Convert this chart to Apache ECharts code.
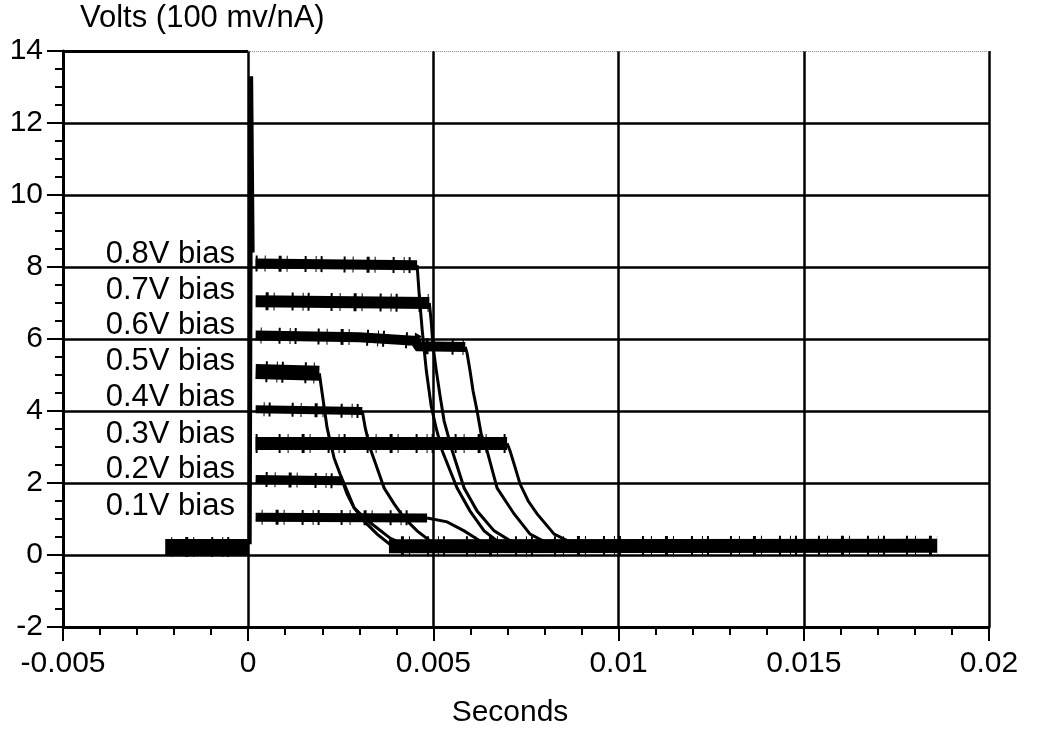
<!DOCTYPE html>
<html><head><meta charset="utf-8">
<script src="https://cdn.jsdelivr.net/npm/echarts@6/dist/echarts.min.js"></script>
<style>html,body{margin:0;padding:0;background:#fff}#c{width:1039px;height:730px}</style>
</head><body><div id="c"></div>
<script>
const FONT = '"Liberation Sans", Arial, Helvetica, sans-serif';

// axis ticks
const xTickLabels = ['-0.005', '0', '0.005', '0.01', '0.015', '0.02'];
const yTickLabels = ['-2', '0', '2', '4', '6', '8', '10', '12', '14'];

// bias labels
const biasNames = ['0.8V bias', '0.7V bias', '0.6V bias', '0.5V bias', '0.4V bias', '0.3V bias', '0.2V bias', '0.1V bias'];
const biasLabelV = [8.36, 7.36, 6.39, 5.39, 4.39, 3.36, 2.39, 1.36];
const biasLabelT = -0.00035;

// baseline noise band before trigger and after decay
const preT = [-0.00224, 0.0];
const preV = [0.22, 0.22];
const postT = [0.0038, 0.0186];
const postV = [0.24, 0.26];

// trigger spike
const spikeT = [0.00004, 0.00008, 0.00012];
const spikeV = [0.3, 13.3, 8.4];

// plateaus (seconds, volts)
const plat08T = [0.0002, 0.00456];
const plat08V = [8.1, 8.05];
const plat07T = [0.0002, 0.00489];
const plat07V = [7.05, 7.0];
const plat06T = [0.0002, 0.0030, 0.0045, 0.0046, 0.00586];
const plat06V = [6.1, 6.05, 5.95, 5.8, 5.78];
const plat05T = [0.0002, 0.00192];
const plat05V = [5.1, 5.05];
const plat04T = [0.0002, 0.00308];
const plat04V = [4.05, 4.0];
const plat03T = [0.0002, 0.00699];
const plat03V = [3.1, 3.1];
const plat02T = [0.0002, 0.00254];
const plat02V = [2.1, 2.06];
const plat01T = [0.0002, 0.00483];
const plat01V = [1.05, 1.03];

// decays (seconds, volts)
const fall08T = [0.00456, 0.00462, 0.0047, 0.00481, 0.00494, 0.00508, 0.00524, 0.00564, 0.00599, 0.00637, 0.00672, 0.00726];
const fall08V = [8.05, 7.19, 6.22, 5.11, 4.14, 3.5, 2.89, 1.86, 1.22, 0.67, 0.39, 0.25];
const fall07T = [0.00489, 0.00494, 0.00499, 0.00508, 0.00518, 0.00529, 0.00551, 0.00583, 0.00618, 0.00664, 0.00713, 0.00767];
const fall07V = [7.0, 6.5, 5.8, 5.11, 4.42, 3.72, 2.89, 1.86, 1.22, 0.67, 0.36, 0.22];
const fall06T = [0.00586, 0.00591, 0.00599, 0.00607, 0.00618, 0.00629, 0.00645, 0.00672, 0.00718, 0.00761, 0.00807, 0.00861];
const fall06V = [5.78, 5.6, 5.11, 4.56, 4.0, 3.36, 2.89, 1.86, 1.14, 0.58, 0.33, 0.22];
const fall05T = [0.00192, 0.002, 0.00213, 0.00232, 0.00248, 0.00267, 0.00286, 0.00313, 0.00348, 0.00381, 0.00429];
const fall05V = [5.05, 4.47, 3.53, 2.69, 2.25, 1.78, 1.31, 0.94, 0.58, 0.31, 0.19];
const fall04T = [0.00308, 0.00316, 0.00329, 0.00348, 0.00367, 0.00394, 0.00421, 0.00456, 0.00491, 0.00537];
const fall04V = [4.0, 3.53, 2.97, 2.42, 1.86, 1.42, 1.03, 0.67, 0.39, 0.22];
const fall03T = [0.00699, 0.00707, 0.00721, 0.00734, 0.00756, 0.0078, 0.00826, 0.00875, 0.00915];
const fall03V = [3.1, 2.89, 2.42, 1.97, 1.5, 1.14, 0.58, 0.33, 0.22];
const fall02T = [0.00254, 0.00267, 0.00286, 0.00313, 0.00348, 0.00383, 0.00429];
const fall02V = [2.06, 1.69, 1.31, 1.03, 0.75, 0.47, 0.25];
const fall01T = [0.00483, 0.00537, 0.00583, 0.00626, 0.00672];
const fall01V = [1.03, 0.92, 0.67, 0.39, 0.22];

const plateaus = [[plat08T, plat08V], [plat07T, plat07V], [plat06T, plat06V], [plat05T, plat05V],
                  [plat04T, plat04V], [plat03T, plat03V], [plat02T, plat02V], [plat01T, plat01V]];
const falls = [[fall08T, fall08V], [fall07T, fall07V], [fall06T, fall06V], [fall05T, fall05V],
               [fall04T, fall04V], [fall03T, fall03V], [fall02T, fall02V], [fall01T, fall01V]];
const plateauWidths = [10, 12, 10, 15, 8, 13, 9, 9];

const zip = (t, v) => t.map((x, i) => [x, v[i]]);
const X_MIN = -0.005, X_INT = 0.005, Y_MIN = -2, Y_INT = 2;

function lineSeries(name, data, width, extra) {
  return Object.assign({
    name, type: 'line', data, symbol: 'none', silent: true, animation: false,
    lineStyle: { color: '#000', width, cap: 'butt', join: 'miter' }
  }, extra || {});
}
// irregular noise fringe drawn over the same trace (style only)
const NOISE_DASH = [2, 7, 1, 13, 3, 5, 1, 17, 2, 9, 1, 4, 2, 21];
function fringe(name, data, width, offset) {
  return {
    name: name + ' noise', type: 'line', data, symbol: 'none', silent: true, animation: false,
    lineStyle: { color: '#000', width, cap: 'butt', type: NOISE_DASH, dashOffset: offset }
  };
}

const series = [];
series.push(lineSeries('pre', zip(preT, preV), 16, {
  markLine: {
    silent: true, symbol: 'none', animation: false, label: { show: false },
    data: [
      [{ coord: [X_MIN, 14], lineStyle: { type: 'solid', color: '#000', width: 3 } }, { coord: [0, 14] }],
      [{ coord: [0, 14], lineStyle: { type: 'dotted', color: '#888', width: 1 } }, { coord: [0.02, 14] }]
    ]
  }
}));
series.push(fringe('pre', zip(preT, preV), 20, 3));
series.push(lineSeries('post', zip(postT, postV), 14));
series.push(fringe('post', zip(postT, postV), 20, 11));
plateaus.forEach((p, i) => {
  series.push(lineSeries(biasNames[i] + ' plateau', zip(p[0], p[1]), plateauWidths[i]));
  series.push(fringe(biasNames[i], zip(p[0], p[1]), plateauWidths[i] + 6, i * 13));
});
falls.forEach((f, i) => series.push(lineSeries(biasNames[i] + ' decay', zip(f[0], f[1]), 3)));
series.push(lineSeries('spike', zip(spikeT, spikeV), 4));
series.push({
  name: 'labels', type: 'scatter', silent: true, animation: false, symbol: 'circle', symbolSize: 0.5,
  itemStyle: { color: '#000' },
  data: biasLabelV.map((v, i) => ({ value: [biasLabelT, v], name: biasNames[i] })),
  label: {
    show: true, position: 'left', distance: 0, formatter: '{b}', color: '#000', opacity: 1,
    textBorderWidth: 0, fontSize: 31, fontFamily: FONT
  }
});

const chart = echarts.init(document.getElementById('c'), null, { renderer: 'canvas' });
chart.setOption({
  backgroundColor: '#fff',
  animation: false,
  title: {
    text: 'Volts (100 mv/nA)', left: 80, top: 3, padding: 0,
    textStyle: { fontSize: 31, fontWeight: 'normal', color: '#000', fontFamily: FONT }
  },
  grid: { left: 63, right: 50, top: 51, bottom: 103, containLabel: false, outerBoundsMode: 'none' },
  xAxis: {
    type: 'value', min: X_MIN, max: 0.02, interval: X_INT,
    name: 'Seconds', nameLocation: 'middle', nameGap: 71,
    nameTextStyle: { fontSize: 30, color: '#000', fontFamily: FONT, padding: [0, 32, 0, 0] },
    axisLine: { show: true, onZero: false, lineStyle: { color: '#000', width: 3 } },
    axisTick: { show: true, inside: false, length: 14, lineStyle: { color: '#000', width: 2 } },
    minorTick: { show: true, splitNumber: 5, length: 8, lineStyle: { color: '#000', width: 2 } },
    splitLine: { show: true, lineStyle: { color: '#000', width: 2.5 } },
    axisLabel: {
      margin: 22, fontSize: 30, color: '#000', fontFamily: FONT,
      formatter: v => xTickLabels[Math.round((v - X_MIN) / X_INT)] ?? ''
    }
  },
  yAxis: {
    type: 'value', min: Y_MIN, max: 14, interval: Y_INT,
    axisLine: { show: true, onZero: false, lineStyle: { color: '#000', width: 3 } },
    axisTick: { show: true, inside: false, length: 16, lineStyle: { color: '#000', width: 2 } },
    minorTick: { show: true, splitNumber: 4, length: 8, lineStyle: { color: '#000', width: 2 } },
    splitLine: { show: true, showMaxLine: false, lineStyle: { color: '#000', width: 2.5 } },
    axisLabel: {
      margin: 20, fontSize: 30, color: '#000', fontFamily: FONT,
      formatter: v => yTickLabels[Math.round((v - Y_MIN) / Y_INT)] ?? ''
    }
  },
  series
});
</script></body></html>
